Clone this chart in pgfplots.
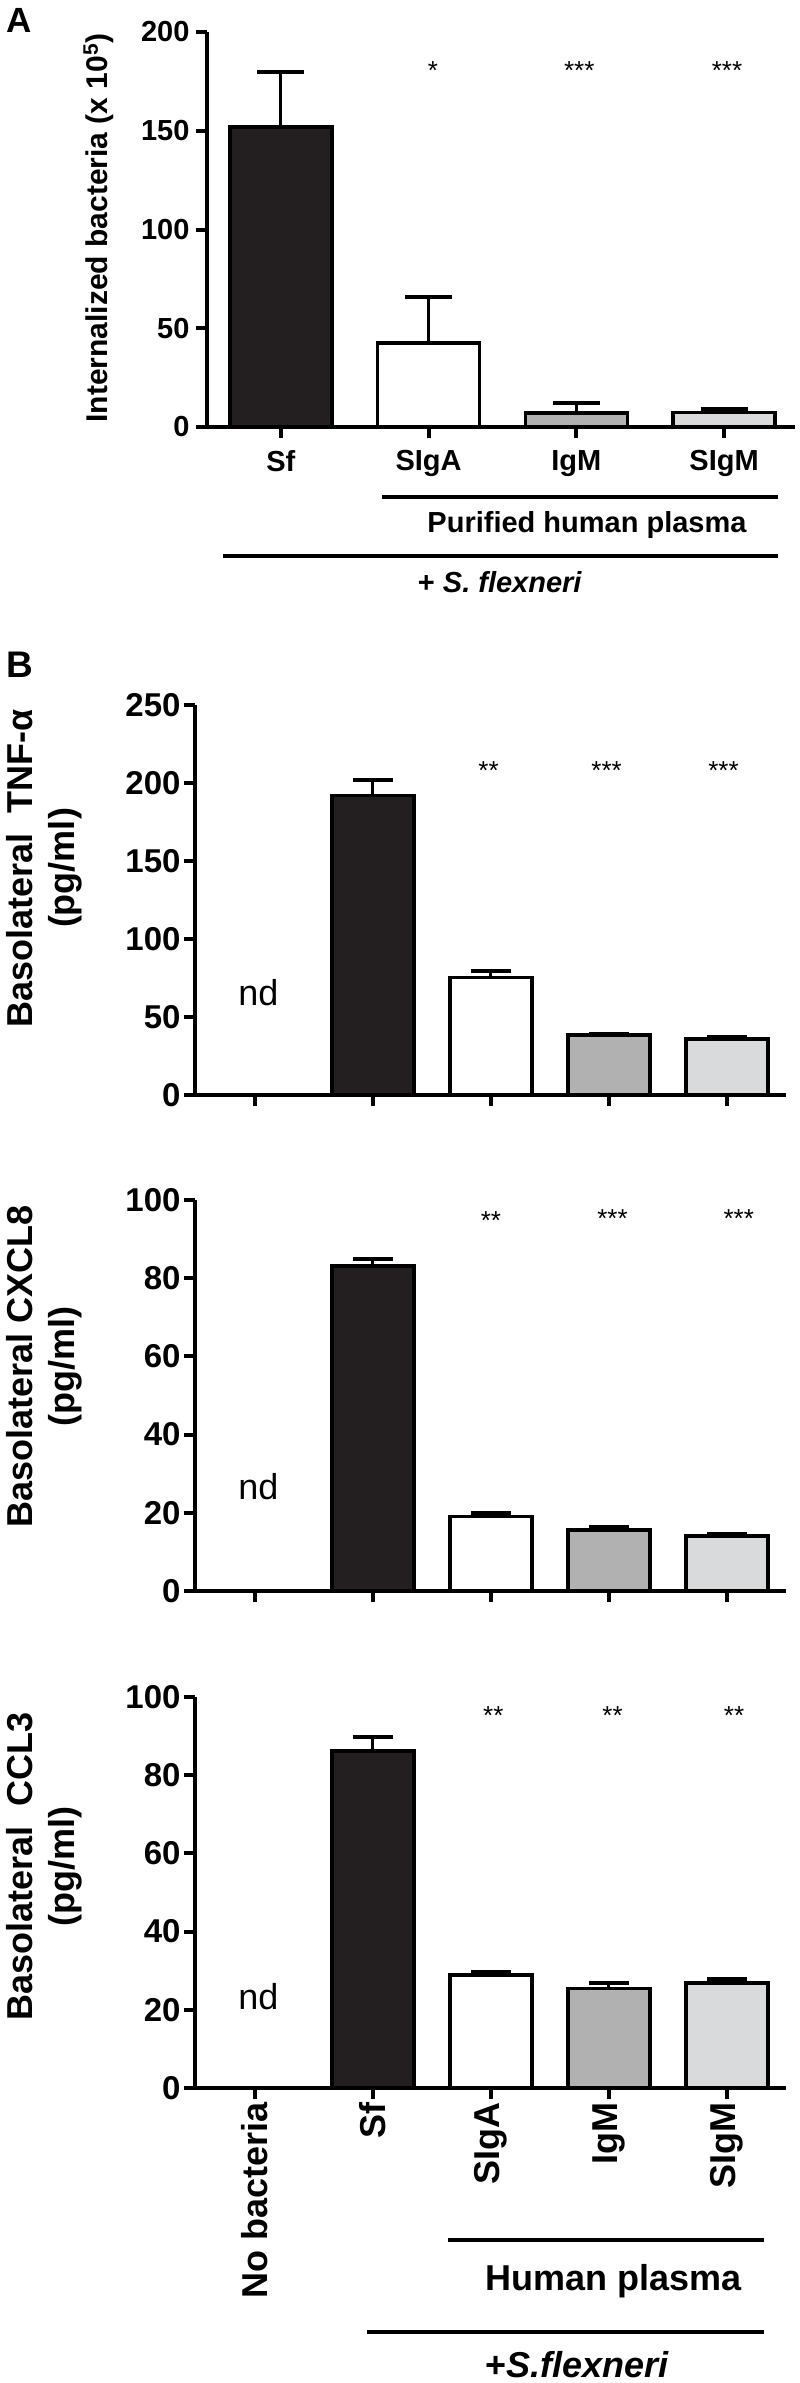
\documentclass[border=0pt]{standalone}
\usepackage{fontspec}
\setmainfont{Liberation Sans}
\usepackage{pgfplots}
\pgfplotsset{compat=1.18}
\definecolor{barblack}{HTML}{231F20}
\definecolor{igmgray}{HTML}{B1B1B1}
\definecolor{sigmgray}{HTML}{D9DADB}
\newcommand{\fs}[1]{\fontsize{#1pt}{#1pt}\selectfont}
\pgfplotsset{
  gpbase/.style={
    scale only axis, clip=false,
    axis lines=left, axis line style={-, line width=4pt, black},
    tick align=outside, major tick length=11pt,
    tick style={line width=4pt, black},
    ymin=0,
    /pgf/number format/assume math mode=true,
    ybar,
    error bars/y dir=plus, error bars/y explicit,
    error bars/error mark=|,
    error bars/error bar style={line width=3pt, black},
  },
  gpbar/.style={fill=#1, draw=black, line width=3.5pt, bar shift=0pt},
}
\begin{document}
\begin{tikzpicture}
\useasboundingbox (0pt,0pt) rectangle (800pt,-2383pt);
% ---------------- Panel A ----------------
\node[anchor=base west, font=\fs{35}\bfseries] at (3pt,-32pt) {A};
\node[rotate=90, anchor=base, font=\fs{30}\bfseries] at (107pt,-228pt) {Internalized bacteria (x 10\textsuperscript{5})};
\begin{axis}[gpbase, at={(207pt,-427pt)}, anchor=south west,
  width=588pt, height=395pt,
  xmin=-0.50, xmax=3.48, ymax=200, ytick={0,50,100,150,200},
  xtick={0,1,2,3}, xticklabels={Sf,SIgA,IgM,SIgM},
  bar width=0.69,
  tick label style={font=\fs{29}\bfseries},
  yticklabel style={xshift=-3pt},
  xticklabel style={yshift=-9pt},
  error bars/error mark options={line width=4pt, mark size=23.5pt, black}]
\addplot[gpbar=barblack] coordinates {(0,151.8) +- (0,27.7)};
\addplot[gpbar=white] coordinates {(1,42.5) +- (0,23.3)};
\addplot[gpbar=igmgray] coordinates {(2,7.1) +- (0,5.1)};
\addplot[gpbar=sigmgray] coordinates {(3,7.3) +- (0,1.8)};
\node[anchor=base, font=\fs{26}] at (axis cs:1.03,175.8) {*};
\node[anchor=base, font=\fs{26}] at (axis cs:2.02,175.8) {***};
\node[anchor=base, font=\fs{26}] at (axis cs:3.02,175.8) {***};
\end{axis}
\draw[line width=3.5pt] (382pt,-497pt) -- (778pt,-497pt);
\node[anchor=base, font=\fs{29}\bfseries] at (587pt,-532pt) {Purified human plasma};
\draw[line width=3.5pt] (223pt,-556pt) -- (778pt,-556pt);
\node[anchor=base, font=\fs{29}\bfseries] at (500pt,-592pt) {+ \textit{S. flexneri}};
% ---------------- Panel B ----------------
\node[anchor=base west, font=\fs{37}\bfseries] at (3pt,-677pt) {B};
% TNF
\node[rotate=90, anchor=base, font=\fs{36}\bfseries] at (32pt,-868pt) {Basolateral\ \ TNF-α};
\node[rotate=90, anchor=base, font=\fs{36}\bfseries] at (74pt,-868pt) {(pg/ml)};
\begin{axis}[gpbase, at={(195pt,-1095pt)}, anchor=south west,
  width=591pt, height=390pt,
  xmin=-0.508, xmax=4.5, ymax=250, ytick={0,50,100,150,200,250},
  xtick={0,1,2,3,4}, xticklabels={},
  bar width=0.695,
  tick label style={font=\fs{33}\bfseries},
  error bars/error mark options={line width=4pt, mark size=20pt, black}]
\addplot[gpbar=barblack] coordinates {(1,191.9) +- (0,10.1)};
\addplot[gpbar=white] coordinates {(2,75.3) +- (0,4.2)};
\addplot[gpbar=igmgray] coordinates {(3,38.6) +- (0,0.8)};
\addplot[gpbar=sigmgray] coordinates {(4,35.8) +- (0,1.5)};
\node[anchor=base, font=\fs{36}] at (axis cs:0.03,57.7) {nd};
\node[anchor=base, font=\fs{26}] at (axis cs:1.98,202.4) {**};
\node[anchor=base, font=\fs{26}] at (axis cs:2.98,202.4) {***};
\node[anchor=base, font=\fs{26}] at (axis cs:3.97,202.4) {***};
\end{axis}
% CXCL8
\node[rotate=90, anchor=base, font=\fs{36}\bfseries] at (32pt,-1366pt) {Basolateral CXCL8};
\node[rotate=90, anchor=base, font=\fs{36}\bfseries] at (74pt,-1366pt) {(pg/ml)};
\begin{axis}[gpbase, at={(195pt,-1591pt)}, anchor=south west,
  width=591pt, height=391pt,
  xmin=-0.508, xmax=4.5, ymax=100, ytick={0,20,40,60,80,100},
  xtick={0,1,2,3,4}, xticklabels={},
  bar width=0.695,
  tick label style={font=\fs{33}\bfseries},
  error bars/error mark options={line width=4pt, mark size=20pt, black}]
\addplot[gpbar=barblack] coordinates {(1,83.1) +- (0,1.9)};
\addplot[gpbar=white] coordinates {(2,19.0) +- (0,1.0)};
\addplot[gpbar=igmgray] coordinates {(3,15.6) +- (0,0.7)};
\addplot[gpbar=sigmgray] coordinates {(4,14.1) +- (0,0.5)};
\node[anchor=base, font=\fs{36}] at (axis cs:0.03,23.3) {nd};
\node[anchor=base, font=\fs{26}] at (axis cs:2.0,92.4) {**};
\node[anchor=base, font=\fs{26}] at (axis cs:3.03,93.0) {***};
\node[anchor=base, font=\fs{26}] at (axis cs:4.1,93.0) {***};
\end{axis}
% CCL3
\node[rotate=90, anchor=base, font=\fs{36}\bfseries] at (32pt,-1866pt) {Basolateral\ \ CCL3};
\node[rotate=90, anchor=base, font=\fs{36}\bfseries] at (74pt,-1866pt) {(pg/ml)};
\begin{axis}[gpbase, at={(195pt,-2088pt)}, anchor=south west,
  width=591pt, height=391pt,
  xmin=-0.508, xmax=4.5, ymax=100, ytick={0,20,40,60,80,100},
  xtick={0,1,2,3,4}, xticklabels={No bacteria,Sf,SIgA,IgM,SIgM},
  bar width=0.695,
  tick label style={font=\fs{33}\bfseries},
  xticklabel style={rotate=90, anchor=east, font=\fs{36}\bfseries},
  error bars/error mark options={line width=4pt, mark size=20pt, black}]
\addplot[gpbar=barblack] coordinates {(1,86.2) +- (0,3.6)};
\addplot[gpbar=white] coordinates {(2,28.9) +- (0,0.9)};
\addplot[gpbar=igmgray] coordinates {(3,25.5) +- (0,1.3)};
\addplot[gpbar=sigmgray] coordinates {(4,26.8) +- (0,1.1)};
\node[anchor=base, font=\fs{36}] at (axis cs:0.03,20.0) {nd};
\node[anchor=base, font=\fs{26}] at (axis cs:2.02,92.9) {**};
\node[anchor=base, font=\fs{26}] at (axis cs:3.03,92.9) {**};
\node[anchor=base, font=\fs{26}] at (axis cs:4.06,92.9) {**};
\end{axis}
\draw[line width=3.5pt] (448pt,-2240pt) -- (764pt,-2240pt);
\node[anchor=base west, font=\fs{36}\bfseries] at (482pt,-2290pt) {Human plasma};
\draw[line width=3.5pt] (367pt,-2332pt) -- (764pt,-2332pt);
\node[anchor=base west, font=\fs{36}\bfseries] at (482pt,-2377pt) {+\textit{S.flexneri}};
\end{tikzpicture}
\end{document}
